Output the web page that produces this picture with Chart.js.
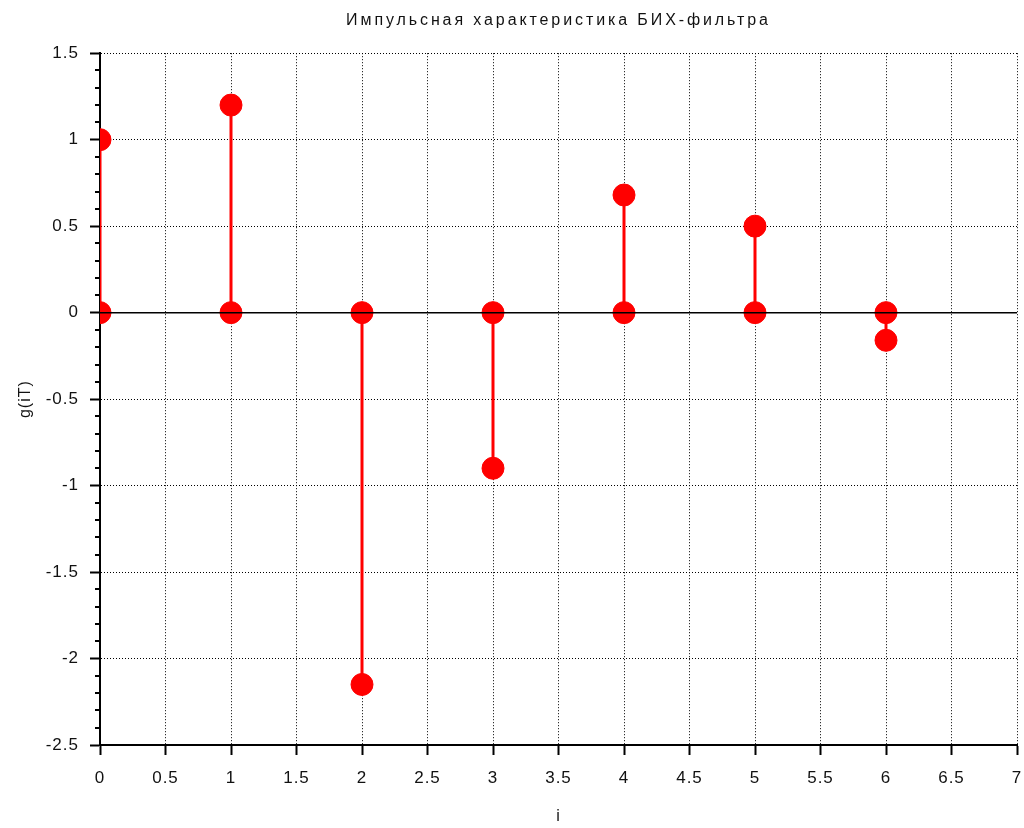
<!DOCTYPE html>
<html>
<head>
<meta charset="utf-8">
<script src="https://cdn.jsdelivr.net/npm/chart.js@4/dist/chart.umd.min.js"></script>
<style>
  html, body { margin: 0; padding: 0; background: #ffffff; overflow: hidden; }
  #wrap { width: 1024px; height: 828px; }
  canvas { display: block; }
</style>
</head>
<body>
<div id="wrap"><canvas id="c" width="1024" height="828"></canvas></div>
<script>
// Sample indices and impulse response values g(iT)
const sampleIndex = [0, 1, 2, 3, 4, 5, 6];
const responseValues = [1.0, 1.2, -2.15, -0.9, 0.68, 0.5, -0.16];

// Axis ticks
const xTickValues = [0, 0.5, 1, 1.5, 2, 2.5, 3, 3.5, 4, 4.5, 5, 5.5, 6, 6.5, 7];
const yTickValues = [-2.5, -2, -1.5, -1, -0.5, 0, 0.5, 1, 1.5];
const yMinorTickValues = [];
for (let k = -25; k <= 15; k++) { if (k % 5 !== 0) yMinorTickValues.push(k / 10); }

const RED = '#ff0000';
const TEXT = '#111111';
const FONT = "'Liberation Sans', Arial, sans-serif";

// One dataset per stem: from the baseline to the sample value, with a marker at both ends
const stemSets = sampleIndex.map((ix, n) => ({
  label: 'g(' + ix + 'T)',
  data: [{ x: ix, y: 0 }, { x: ix, y: responseValues[n] }],
  showLine: true,
  borderColor: RED,
  borderWidth: 3,
  pointRadius: 11,
  pointHoverRadius: 11,
  pointBackgroundColor: RED,
  pointBorderColor: RED,
  pointBorderWidth: 1,
  clip: 0,
  order: 1
}));

// Solid zero line across the whole plot
const baseline = {
  label: 'zero',
  data: [{ x: xTickValues[0], y: 0 }, { x: xTickValues[xTickValues.length - 1], y: 0 }],
  showLine: true,
  borderColor: '#000000',
  borderWidth: 1.5,
  pointRadius: 0,
  clip: 0,
  order: 0
};

// Small left-pointing minor ticks on the y axis
const minorTicks = {
  id: 'minorTicks',
  afterDraw(chart) {
    const { ctx, scales: { x, y } } = chart;
    ctx.save();
    ctx.strokeStyle = '#000000';
    ctx.lineWidth = 2;
    const left = x.left;
    yMinorTickValues.forEach(v => {
      const py = Math.round(y.getPixelForValue(v));
      ctx.beginPath();
      ctx.moveTo(left - 5, py);
      ctx.lineTo(left, py);
      ctx.stroke();
    });
    ctx.restore();
  }
};

// Spaced lettering for all text, wider for the title
const spacing = {
  id: 'spacing',
  beforeDraw(chart) {
    chart.ctx.letterSpacing = '1px';
    const tb = chart.titleBlock;
    if (tb && !tb._spaced) {
      const orig = tb.draw.bind(tb);
      tb.draw = function () {
        const c = this.ctx;
        const prev = c.letterSpacing;
        c.letterSpacing = '2.9px';
        orig();
        c.letterSpacing = prev;
      };
      tb._spaced = true;
    }
  }
};

const gridStyle = {
  color: '#000000',
  lineWidth: 1,
  drawTicks: true,
  tickLength: 10,
  tickColor: '#000000',
  tickWidth: 2,
  tickBorderDash: []
};

new Chart(document.getElementById('c'), {
  type: 'scatter',
  data: { datasets: [baseline, ...stemSets] },
  plugins: [spacing, minorTicks],
  options: {
    responsive: false,
    animation: false,
    events: [],
    layout: { autoPadding: false, padding: { left: 0, right: 7, top: 0, bottom: 0 } },
    plugins: {
      legend: { display: false },
      tooltip: { enabled: false },
      title: {
        display: true,
        fullSize: false,
        text: 'Импульсная характеристика БИХ-фильтра',
        color: TEXT,
        font: { family: FONT, size: 16, weight: 'normal' },
        padding: { top: 11, bottom: 23 }
      }
    },
    scales: {
      x: {
        type: 'linear',
        min: xTickValues[0],
        max: xTickValues[xTickValues.length - 1],
        afterBuildTicks(scale) { scale.ticks = xTickValues.map(v => ({ value: v })); },
        afterFit(scale) { scale.height = 83; scale.paddingRight = 0; scale.paddingLeft = 0; },
        ticks: {
          color: TEXT,
          font: { family: FONT, size: 17 },
          padding: 13,
          maxRotation: 0,
          autoSkip: false,
          callback: v => String(v)
        },
        grid: gridStyle,
        border: { display: true, color: '#000000', width: 2, dash: [1, 2] },
        title: {
          display: true,
          text: 'i',
          color: TEXT,
          font: { family: FONT, size: 16 },
          padding: { top: 0, bottom: 2 }
        }
      },
      y: {
        type: 'linear',
        min: yTickValues[0],
        max: yTickValues[yTickValues.length - 1],
        afterBuildTicks(scale) { scale.ticks = yTickValues.map(v => ({ value: v })); },
        afterFit(scale) { scale.width = 100; },
        ticks: {
          color: TEXT,
          font: { family: FONT, size: 17 },
          padding: 11,
          autoSkip: false,
          callback: v => String(v)
        },
        grid: gridStyle,
        border: { display: true, color: '#000000', width: 2, dash: [1, 2] },
        title: {
          display: true,
          text: 'g(iT)',
          color: TEXT,
          font: { family: FONT, size: 16 },
          padding: { top: 16, bottom: 0 }
        }
      }
    }
  }
});
</script>
</body>
</html>
